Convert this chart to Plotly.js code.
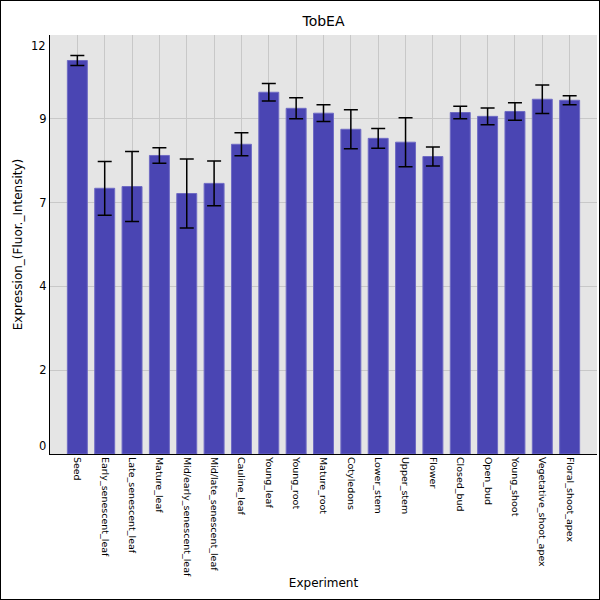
<!DOCTYPE html>
<html>
<head>
<meta charset="utf-8">
<script src="https://cdn.plot.ly/plotly-3.0.1.min.js"></script>
<style>
  body { margin: 0; background: #fff; }
  #wrap { position: relative; width: 600px; height: 600px; }
  #chart { width: 600px; height: 600px; }
  #frame { position: absolute; left: 0; top: 0; width: 600px; height: 600px;
           box-sizing: border-box; border: 1px solid #000; pointer-events: none; }
</style>
</head>
<body>
<div id="wrap">
  <div id="chart"></div>
  <div id="frame"></div>
</div>
<script>
const experiments = [
  "Seed", "Early_senescent_leaf", "Late_senescent_leaf", "Mature_leaf",
  "Mid/early_senescent_leaf", "Mid/late_senescent_leaf", "Cauline_leaf",
  "Young_leaf", "Young_root", "Mature_root", "Cotyledons", "Lower_stem",
  "Upper_stem", "Flower", "Closed_bud", "Open_bud", "Young_shoot",
  "Vegetative_shoot_apex", "Floral_shoot_apex"
];
const expression = [
  11.27, 7.61, 7.66, 8.55, 7.46, 7.75, 8.87, 10.36, 9.90, 9.76,
  9.30, 9.04, 8.93, 8.52, 9.78, 9.67, 9.81, 10.16, 10.13
];
const errors = [
  0.14, 0.77, 1.00, 0.22, 0.99, 0.64, 0.33, 0.25, 0.30, 0.24,
  0.56, 0.28, 0.70, 0.27, 0.18, 0.24, 0.25, 0.41, 0.13
];
// y ticks sit at even steps, labels are the truncated values
const yTickVals = [2.4, 4.8, 7.2, 9.6];
const yTickText = ["2", "4", "7", "9"];
const yEndVals = [0, 12];
const yEndText = ["0", "12"];

const font = "DejaVu Sans, sans-serif";

const trace = {
  x: experiments,
  y: expression,
  type: "bar",
  marker: { color: "#4a45b3", line: { color: "#6f6bc4", width: 1 } },
  error_y: { type: "data", array: errors, visible: true, color: "#000", thickness: 1.5, width: 7 }
};

const layout = {
  width: 600,
  height: 600,
  paper_bgcolor: "#fff",
  plot_bgcolor: "#e5e5e5",
  font: { family: font, color: "#000" },
  margin: { l: 50, r: 3, t: 35, b: 146 },
  bargap: 0.27,
  showlegend: false,
  title: { text: "TobEA", font: { size: 14 }, x: 0.5, xref: "paper", y: 0.965, yanchor: "middle" },
  xaxis: {
    type: "category",
    range: [-1, 19],
    tickangle: 90,
    tickfont: { size: 9.5 },
    showgrid: true,
    gridcolor: "#c8c8c8",
    showline: true,
    linecolor: "#000",
    linewidth: 1,
    ticks: "",
    title: { text: "Experiment", font: { size: 12 }, standoff: 2 }
  },
  yaxis: {
    range: [0, 12],
    tickvals: yTickVals,
    ticktext: yTickText,
    tickfont: { size: 11.5 },
    showgrid: true,
    gridcolor: "#c8c8c8",
    zeroline: false,
    showline: true,
    linecolor: "#000",
    linewidth: 1,
    ticks: "",
    title: { text: "Expression_(Fluor._Intensity)", font: { size: 12 }, standoff: 14 }
  },
  annotations: yEndVals.map((v, i) => ({
    x: 0, xref: "paper", xanchor: "right", xshift: -2,
    y: v, yref: "y", yanchor: i === 0 ? "bottom" : "top", yshift: i === 0 ? -1 : -2,
    text: yEndText[i], showarrow: false, font: { size: 11.5 }
  }))
};

Plotly.newPlot("chart", [trace], layout, { displayModeBar: false, staticPlot: true });
</script>
</body>
</html>
